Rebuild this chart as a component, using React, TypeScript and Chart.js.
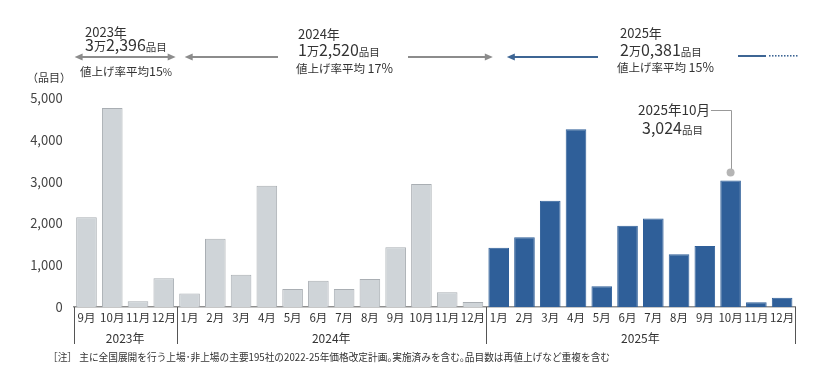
import React, { useEffect, useRef } from "react";
import { Chart, registerables } from "chart.js";

Chart.register(...registerables);

const months2023 = ["9月", "10月", "11月", "12月"];
const months2024 = ["1月", "2月", "3月", "4月", "5月", "6月", "7月", "8月", "9月", "10月", "11月", "12月"];
const months2025 = ["1月", "2月", "3月", "4月", "5月", "6月", "7月", "8月", "9月", "10月", "11月", "12月"];

const values2023 = [2150, 4758, 140, 690];
const values2024 = [320, 1630, 770, 2900, 430, 630, 430, 670, 1430, 2940, 350, 120];
const values2025 = [1420, 1670, 2540, 4250, 495, 1945, 2120, 1260, 1460, 3024, 112, 222];

const yearLabels = ["2023年", "2024年", "2025年"];
const yearTotalsNum = ["3", "1", "2"];
const yearTotalsRest = ["2,396", "2,520", "0,381"];
const yearRates = ["15", "17", "15"];
const yTicks = [0, 1000, 2000, 3000, 4000, 5000];

const calloutYear = "2025年10月";
const calloutValue = "3,024";

const NOTE =
  "［注］ 主に全国展開を行う上場･非上場の主要195社の2022-25年価格改定計画｡実施済みを含む｡品目数は再値上げなど重複を含む";

const FONT = "'Noto Sans CJK JP', 'Noto Sans', sans-serif";
const TEXT = "#333333";
const GRAY_FILL = "#cfd4d8";
const GRAY_BORDER = "#a9aeb3";
const BLUE = "#2f5f99";
const ARROW_GRAY = "#8c8c8c";
const ARROW_BLUE = "#3d6594";

type Run = [string, number];

function drawRuns(ctx: CanvasRenderingContext2D, x: number, baseline: number, runs: Run[], color = TEXT) {
  ctx.save();
  ctx.fillStyle = color;
  ctx.textBaseline = "alphabetic";
  ctx.textAlign = "left";
  let cx = x;
  for (const [t, s] of runs) {
    ctx.font = `${s}px ${FONT}`;
    ctx.fillText(t, cx, baseline);
    cx += ctx.measureText(t).width;
  }
  ctx.restore();
}

function drawArrow(
  ctx: CanvasRenderingContext2D,
  x1: number,
  x2: number,
  y: number,
  color: string,
  headLeft: boolean,
  headRight: boolean
) {
  ctx.save();
  ctx.strokeStyle = color;
  ctx.fillStyle = color;
  ctx.lineWidth = 2;
  const hl = 8;
  const hw = 3.5;
  ctx.beginPath();
  ctx.moveTo(headLeft ? x1 + hl - 1 : x1, y);
  ctx.lineTo(headRight ? x2 - hl + 1 : x2, y);
  ctx.stroke();
  if (headLeft) {
    ctx.beginPath();
    ctx.moveTo(x1, y);
    ctx.lineTo(x1 + hl, y - hw);
    ctx.lineTo(x1 + hl, y + hw);
    ctx.closePath();
    ctx.fill();
  }
  if (headRight) {
    ctx.beginPath();
    ctx.moveTo(x2, y);
    ctx.lineTo(x2 - hl, y - hw);
    ctx.lineTo(x2 - hl, y + hw);
    ctx.closePath();
    ctx.fill();
  }
  ctx.restore();
}

const annotPlugin = {
  id: "annot",
  afterDraw(chart: any) {
    const ctx: CanvasRenderingContext2D = chart.ctx;
    const xs = chart.scales.x;
    const ys = chart.scales.y;
    const area = chart.chartArea;
    const n = xs.getLabels().length;
    const cat = (area.right - area.left) / n;

    // year group separators and labels
    const counts = [months2023.length, months2024.length, months2025.length];
    const bounds: number[] = [area.left];
    let idx = 0;
    for (const c of counts) {
      idx += c;
      bounds.push(area.left + idx * cat);
    }
    ctx.save();
    ctx.strokeStyle = "#555";
    ctx.lineWidth = 1;
    for (const b of bounds) {
      const bx = Math.round(b) + 0.5;
      ctx.beginPath();
      ctx.moveTo(bx, area.bottom);
      ctx.lineTo(bx, area.bottom + 37);
      ctx.stroke();
    }
    ctx.fillStyle = TEXT;
    ctx.font = `12px ${FONT}`;
    ctx.textAlign = "center";
    ctx.textBaseline = "middle";
    for (let i = 0; i < yearLabels.length; i++) {
      ctx.fillText(yearLabels[i], (bounds[i] + bounds[i + 1]) / 2, area.bottom + 31);
    }
    // note
    ctx.textAlign = "left";
    ctx.font = `10.5px ${FONT}`;
    ctx.fillText(NOTE, 48, 357, 562);
    // y title
    ctx.font = `11px ${FONT}`;
    ctx.fillText("（品目）", 27, 78);
    ctx.restore();

    // top annotations
    const ay = 57;
    drawArrow(ctx, bounds[0] + 1, bounds[1] - 1, ay, ARROW_GRAY, true, true);
    drawArrow(ctx, bounds[1] + 8, 278, ay, ARROW_GRAY, true, false);
    drawArrow(ctx, 408, bounds[2] + 7, ay, ARROW_GRAY, false, true);
    drawArrow(ctx, bounds[2] + 21, 598, ay, ARROW_BLUE, true, false);
    drawArrow(ctx, 738, 766, ay - 1, ARROW_BLUE, false, false);
    ctx.save();
    ctx.fillStyle = ARROW_BLUE;
    for (let dx = 769; dx < 799; dx += 3) {
      ctx.fillRect(dx, ay - 2, 1.5, 1.6);
    }
    ctx.restore();

    const blocks = [
      { x: 85, y1: 37, y2: 51, rx: 80, y3: 76, sep: "" },
      { x: 298, y1: 39, y2: 56, rx: 296, y3: 73, sep: " " },
      { x: 620, y1: 38, y2: 56, rx: 617, y3: 72, sep: " " },
    ];
    blocks.forEach((b, i) => {
      drawRuns(ctx, b.x, b.y1, [[yearLabels[i], 13]]);
      drawRuns(ctx, b.x, b.y2, [
        [yearTotalsNum[i], 16],
        ["万", 12],
        [yearTotalsRest[i], 16],
        ["品目", 10.5],
      ]);
      drawRuns(ctx, b.rx, b.y3, [
        ["値上げ率平均" + b.sep, 11.5],
        [yearRates[i], 12.5],
        ["%", i === 0 ? 10 : 12.5],
      ]);
    });

    // callout for 2025年10月
    const ci = months2023.length + months2024.length + 9;
    const bx = xs.getPixelForValue(ci);
    const by = ys.getPixelForValue(values2025[9]);
    const dotY = by - 8;
    ctx.save();
    ctx.font = `13.5px ${FONT}`;
    const tw = ctx.measureText(calloutYear).width;
    ctx.restore();
    const tx = 638;
    drawRuns(ctx, tx, 115, [[calloutYear, 13.5]]);
    drawRuns(ctx, 642, 134, [
      [calloutValue, 16],
      ["品目", 10.5],
    ]);
    ctx.save();
    ctx.strokeStyle = "#999";
    ctx.lineWidth = 1;
    ctx.beginPath();
    ctx.moveTo(tx + tw + 1, 110.5);
    ctx.lineTo(Math.round(bx) + 0.5, 110.5);
    ctx.lineTo(Math.round(bx) + 0.5, dotY);
    ctx.stroke();
    ctx.fillStyle = "#b5b5b5";
    ctx.beginPath();
    ctx.arc(bx, dotY, 4, 0, Math.PI * 2);
    ctx.fill();
    ctx.restore();
  },
};

export default function App() {
  const ref = useRef<HTMLCanvasElement | null>(null);

  useEffect(() => {
    document.body.style.margin = "0";
    const labels = [...months2023, ...months2024, ...months2025];
    const data = [...values2023, ...values2024, ...values2025];
    const nGray = months2023.length + months2024.length;
    const bg = data.map((_, i) => (i < nGray ? GRAY_FILL : BLUE));
    const bd = data.map((_, i) => (i < nGray ? GRAY_BORDER : BLUE));

    const chart = new Chart(ref.current as HTMLCanvasElement, {
      type: "bar",
      data: {
        labels,
        datasets: [
          {
            data,
            backgroundColor: bg,
            borderColor: bd,
            borderWidth: 1,
            borderSkipped: "bottom",
            barPercentage: 0.8,
            categoryPercentage: 1.0,
          },
        ],
      },
      options: {
        animation: false,
        responsive: true,
        maintainAspectRatio: false,
        layout: { padding: { top: 98, right: 34, bottom: 0, left: 0 } },
        plugins: {
          legend: { display: false },
          tooltip: { enabled: false },
          title: { display: false },
        },
        scales: {
          x: {
            grid: { display: false, drawTicks: false },
            border: { display: true, color: "#8f8f8f", width: 1.5 },
            ticks: {
              autoSkip: false,
              maxRotation: 0,
              minRotation: 0,
              padding: 4,
              color: TEXT,
              font: { family: FONT, size: 11.5 },
            },
            afterFit: (s: any) => {
              s.height = 77;
            },
          },
          y: {
            min: 0,
            max: 5000,
            afterBuildTicks: (s: any) => {
              s.ticks = yTicks.map((v) => ({ value: v }));
            },
            grid: { display: false, drawTicks: false },
            border: { display: false },
            ticks: {
              padding: 11,
              color: "#444",
              font: { family: FONT, size: 13 },
              callback: (v: any) => Number(v).toLocaleString("en-US"),
            },
            afterFit: (s: any) => {
              s.width = 73.6;
            },
          },
        },
      },
      plugins: [annotPlugin],
    });
    return () => chart.destroy();
  }, []);

  return (
    <div style={{ position: "fixed", left: 0, top: 0, width: 829, height: 384, background: "#fff" }}>
      <canvas ref={ref} />
    </div>
  );
}
